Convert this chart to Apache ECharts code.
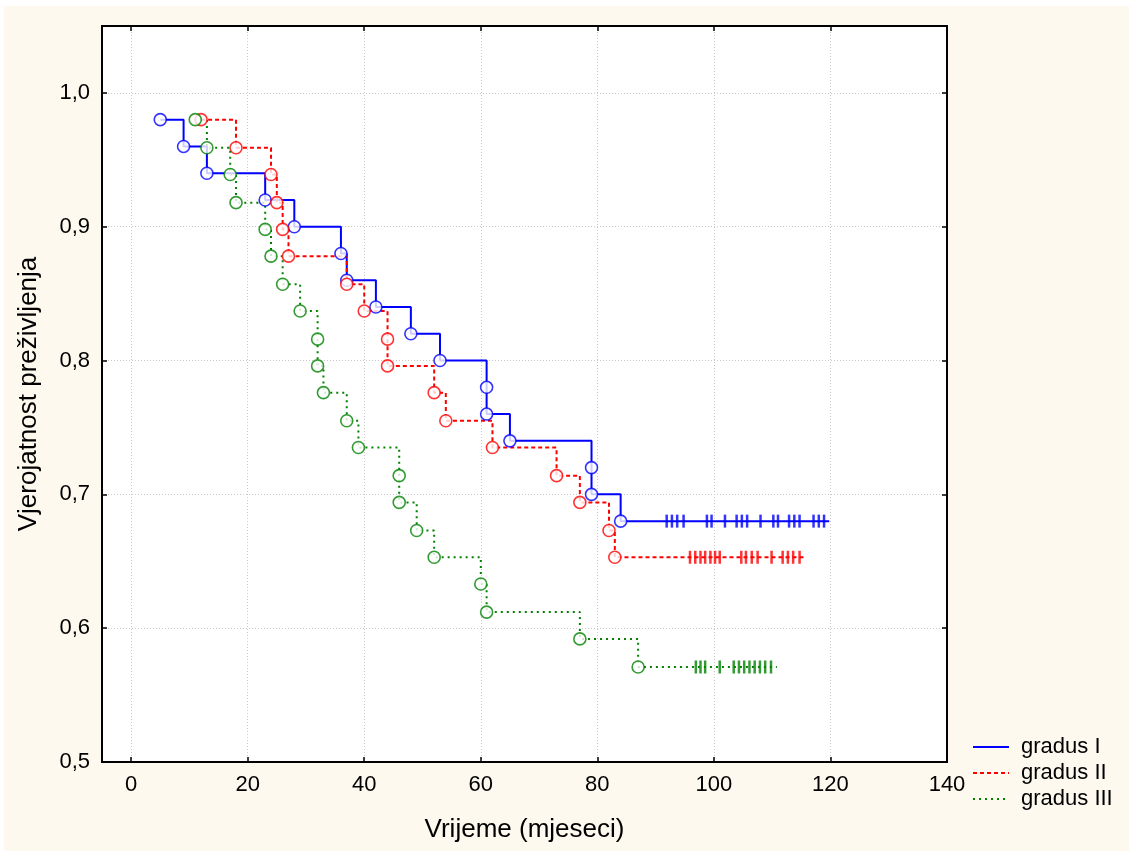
<!DOCTYPE html>
<html>
<head>
<meta charset="utf-8">
<script src="https://cdn.jsdelivr.net/npm/echarts@6/dist/echarts.min.js"></script>
<style>
html,body{margin:0;padding:0;background:#ffffff;}
#bg{position:absolute;left:4px;top:6px;width:1125px;height:845px;background:#fdf9ee;}
#chart{position:absolute;left:0;top:0;width:1129px;height:851px;}
</style>
</head>
<body>
<div id="bg"></div>
<div id="chart"></div>
<script>
// ---- data ----
const xTicks = [0, 20, 40, 60, 80, 100, 120, 140];
const yTicks = [0.5, 0.6, 0.7, 0.8, 0.9, 1.0];
const seriesNames = ['gradus I', 'gradus II', 'gradus III'];

const g1Times = [5, 9, 13, 23, 28, 36, 37, 42, 48, 53, 61, 61, 65, 79, 79, 84];
const g1Surv  = [0.98, 0.96, 0.94, 0.92, 0.90, 0.88, 0.86, 0.84, 0.82, 0.80, 0.78, 0.76, 0.74, 0.72, 0.70, 0.68];
const g1End   = 119.8;
const g1Cens  = [91.9, 92.8, 93.7, 94.8, 98.8, 99.6, 101.9, 103.9, 104.8, 105.7, 108, 110.2, 111, 112.9, 113.8, 114.7, 117.1, 118, 118.9];

const g2Times = [12, 18, 24, 25, 26, 27, 37, 40, 44, 44, 52, 54, 62, 73, 77, 82, 83];
const g2Surv  = [0.980, 0.959, 0.939, 0.918, 0.898, 0.878, 0.857, 0.837, 0.816, 0.796, 0.776, 0.755, 0.735, 0.714, 0.694, 0.673, 0.653];
const g2End   = 115.7;
const g2Cens  = [95.9, 96.8, 97.7, 98.5, 99.4, 100.2, 101.0, 104.7, 105.5, 106.5, 107.5, 109.9, 111.8, 112.7, 113.6, 114.7];

const g3Times = [11, 13, 17, 18, 23, 24, 26, 29, 32, 32, 33, 37, 39, 46, 46, 49, 52, 60, 61, 77, 87];
const g3Surv  = [0.980, 0.959, 0.939, 0.918, 0.898, 0.878, 0.857, 0.837, 0.816, 0.796, 0.776, 0.755, 0.735, 0.714, 0.694, 0.673, 0.653, 0.633, 0.612, 0.592, 0.571];
const g3End   = 110.8;
const g3Cens  = [96.9, 97.7, 98.5, 101, 103.4, 104.3, 105.2, 106.1, 107, 107.9, 108.8, 109.8];

// ---- build ----
const FONT = '"Liberation Sans", Arial, Helvetica, sans-serif';
const colors = ['#0000ff', '#ff0000', '#008200'];
const lineTypes = ['solid', [4, 3], [2, 4]];
const groups = [
  {t: g1Times, s: g1Surv, end: g1End, c: g1Cens},
  {t: g2Times, s: g2Surv, end: g2End, c: g2Cens},
  {t: g3Times, s: g3Surv, end: g3End, c: g3Cens}
];

const series = [];
groups.forEach((g, i) => {
  const last = g.s[g.s.length - 1];
  const stepData = g.t.map((t, k) => [t, g.s[k]]);
  stepData.push([g.end, last]);
  series.push({
    name: seriesNames[i], type: 'line', step: 'end', data: stepData,
    symbol: 'none', showSymbol: false, z: 2,
    lineStyle: {color: colors[i], width: 2, type: lineTypes[i]},
    itemStyle: {color: colors[i]}
  });
});
groups.forEach((g, i) => {
  const last = g.s[g.s.length - 1];
  series.push({
    name: seriesNames[i] + ' cens', type: 'scatter', z: 3,
    data: g.c.map(t => [t, last]),
    symbol: 'rect', symbolSize: [2.5, 13],
    itemStyle: {color: colors[i]}
  });
});
groups.forEach((g, i) => {
  series.push({
    name: seriesNames[i] + ' events', type: 'scatter', z: 4,
    data: g.t.map((t, k) => [t, g.s[k]]),
    symbol: 'circle', symbolSize: 12,
    itemStyle: {color: '#ffffff', borderColor: colors[i], borderWidth: 1.6}
  });
});

const chart = echarts.init(document.getElementById('chart'), null, {renderer: 'canvas'});
chart.setOption({
  animation: false,
  backgroundColor: 'transparent',
  textStyle: {fontFamily: FONT},
  grid: {left: 102, right: 182, top: 26, bottom: 89, show: true,
         backgroundColor: '#ffffff', borderColor: '#000', borderWidth: 2, containLabel: false},
  legend: {
    data: seriesNames, orient: 'vertical', left: 967, top: 731,
    itemWidth: 36, itemHeight: 12, itemGap: 4,
    itemStyle: {opacity: 0},
    textStyle: {fontFamily: FONT, fontSize: 22, color: '#000', lineHeight: 22, padding: [0, 0, 0, 7]}
  },
  xAxis: [{
    type: 'value', min: -5, max: 140, position: 'bottom',
    name: 'Vrijeme (mjeseci)', nameLocation: 'middle', nameGap: 55,
    nameTextStyle: {fontFamily: FONT, fontSize: 26, color: '#000'},
    axisLine: {show: true, onZero: false, lineStyle: {color: '#000', width: 2}},
    axisTick: {show: true, inside: true, length: 5, customValues: xTicks, lineStyle: {color: '#000', width: 1.5}},
    axisLabel: {customValues: xTicks, fontFamily: FONT, fontSize: 22, color: '#000', margin: 12},
    splitLine: {show: true, lineStyle: {color: '#c8c8c8', type: [1, 2], width: 1}}
  }, {
    type: 'value', min: -5, max: 140, position: 'top',
    axisLine: {show: true, onZero: false, lineStyle: {color: '#000', width: 2}},
    axisTick: {show: true, inside: true, length: 5, customValues: xTicks, lineStyle: {color: '#000', width: 1.5}},
    axisLabel: {show: false, customValues: xTicks},
    splitLine: {show: false}
  }],
  yAxis: [{
    type: 'value', min: 0.5, max: 1.05, position: 'left',
    name: 'Vjerojatnost preživljenja', nameLocation: 'middle', nameGap: 60,
    nameTextStyle: {fontFamily: FONT, fontSize: 26, color: '#000'},
    axisLine: {show: true, onZero: false, lineStyle: {color: '#000', width: 2}},
    axisTick: {show: true, inside: true, length: 5, customValues: yTicks, lineStyle: {color: '#000', width: 1.5}},
    axisLabel: {customValues: yTicks, fontFamily: FONT, fontSize: 22, color: '#000', margin: 12,
                formatter: v => v.toFixed(1).replace('.', ',')},
    splitLine: {show: true, lineStyle: {color: '#c8c8c8', type: [1, 2], width: 1}}
  }, {
    type: 'value', min: 0.5, max: 1.05, position: 'right',
    axisLine: {show: true, onZero: false, lineStyle: {color: '#000', width: 2}},
    axisTick: {show: true, inside: true, length: 5, customValues: yTicks, lineStyle: {color: '#000', width: 1.5}},
    axisLabel: {show: false, customValues: yTicks},
    splitLine: {show: false}
  }],
  series: series
});
</script>
</body>
</html>
